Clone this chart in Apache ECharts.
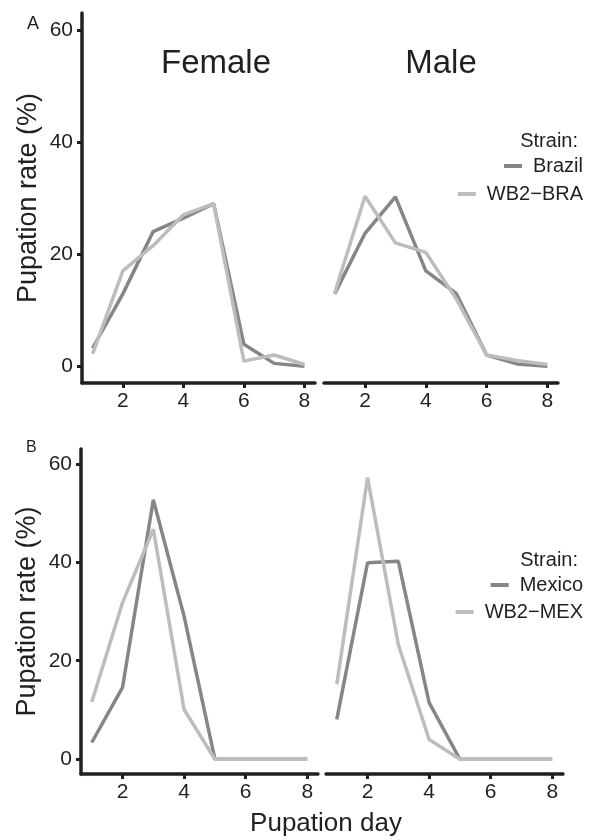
<!DOCTYPE html>
<html>
<head>
<meta charset="utf-8">
<title>Pupation rate</title>
<script src="https://cdn.jsdelivr.net/npm/echarts@6/dist/echarts.min.js"></script>
<style>
  html, body { margin: 0; padding: 0; background: #fff; }
  #main { width: 590px; height: 840px; }
</style>
</head>
<body>
<div id="main"></div>
<script>
// pupation days and rates (%)
var days = [1, 2, 3, 4, 5, 6, 7, 8];
var xTicks = [2, 4, 6, 8];
var yTicks = [0, 20, 40, 60];

// A: Brazil vs WB2-BRA
var brazilFemale = [3.2, 12.9, 24.0, 26.4, 29.0, 3.9, 0.5, 0];
var wbBraFemale  = [2.2, 17.0, 21.5, 27.0, 29.0, 0.9, 2.0, 0.3];
var brazilMale   = [12.9, 23.7, 30.2, 17.0, 13.0, 2.0, 0.4, 0];
var wbBraMale    = [13.0, 30.3, 22.0, 20.3, 12.0, 2.0, 1.0, 0.3];

// B: Mexico vs WB2-MEX
var mexicoFemale = [3.4, 14.6, 52.7, 29.0, 0, 0, 0, 0];
var wbMexFemale  = [11.6, 31.8, 46.7, 10.1, 0, 0, 0, 0];
var mexicoMale   = [8.1, 39.9, 40.2, 11.5, 0, 0, 0, 0];
var wbMexMale    = [15.2, 57.2, 23.3, 4.0, 0, 0, 0, 0];

var darkGrey = '#868686';
var lightGrey = '#bdbdbd';
var ink = '#231f20';
var font = 'Liberation Sans, Arial, sans-serif';

var myChart = echarts.init(document.getElementById('main'));

function pts(vals){
    var out = [];
    for (var i = 0; i < days.length; i++) out.push([days[i], vals[i]]);
    return out;
}

function xAxisFor(idx){
    return {
        type: 'value', gridIndex: idx, min: 0.65, max: 8.35,
        splitLine: { show: false },
        axisLine: { show: true, onZero: false, lineStyle: { color: ink, width: 3.5 } },
        axisTick: { show: true, customValues: xTicks, length: 5, lineStyle: { color: ink, width: 3 } },
        axisLabel: { customValues: xTicks, margin: 8, fontSize: 21, color: ink, fontFamily: font }
    };
}
function yAxisFor(idx, showIt){
    var ax = {
        type: 'value', gridIndex: idx, min: -3, max: 63,
        splitLine: { show: false },
        axisLine: { show: showIt, onZero: false, lineStyle: { color: ink, width: 3.5 } },
        axisTick: { show: showIt, customValues: yTicks, length: 5, lineStyle: { color: ink, width: 3 } },
        axisLabel: { show: showIt, customValues: yTicks, margin: 9, fontSize: 21, color: ink, fontFamily: font }
    };
    if (showIt) {
        ax.name = 'Pupation rate (%)';
        ax.nameLocation = 'middle';
        ax.nameGap = 40;
        ax.nameTextStyle = { fontSize: 27, color: ink, fontFamily: font };
    }
    return ax;
}
function line(name, color, vals, idx){
    return {
        name: name, type: 'line', xAxisIndex: idx, yAxisIndex: idx,
        data: pts(vals), symbol: 'none', color: color,
        lineStyle: { width: 3.5, color: color }, silent: true, animation: false
    };
}
function legendItem(name, top){
    return {
        data: [name], right: 7, top: top, padding: 0,
        icon: 'rect', itemWidth: 18, itemHeight: 4, selectedMode: false,
        textStyle: { fontSize: 20, color: ink, fontFamily: font, padding: [0, 0, 0, 6] }
    };
}

option = {
    backgroundColor: '#fff',
    animation: false,
    title: [
        { text: 'A', left: 22, top: 10, textStyle: { fontSize: 18, fontWeight: 'normal', color: ink, fontFamily: font } },
        { text: 'B', left: 21, top: 435, textStyle: { fontSize: 16, fontWeight: 'normal', color: ink, fontFamily: font } },
        { text: 'Female', left: 211, textAlign: 'center', top: 42, textStyle: { fontSize: 33, fontWeight: 'normal', color: ink, fontFamily: font } },
        { text: 'Male', left: 436, textAlign: 'center', top: 42, textStyle: { fontSize: 33, fontWeight: 'normal', color: ink, fontFamily: font } },
        { text: 'Strain:', right: 7, top: 126, textStyle: { fontSize: 20, fontWeight: 'normal', color: ink, fontFamily: font } },
        { text: 'Strain:', right: 7, top: 545, textStyle: { fontSize: 20, fontWeight: 'normal', color: ink, fontFamily: font } },
        { text: 'Pupation day', left: 321, textAlign: 'center', top: 806, textStyle: { fontSize: 26, fontWeight: 'normal', color: ink, fontFamily: font } }
    ],
    legend: [
        legendItem('Brazil', 156),
        legendItem('WB2−BRA', 184),
        legendItem('Mexico', 575),
        legendItem('WB2−MEX', 602)
    ],
    grid: [
        { left: 82, top: 13, width: 233, height: 370 },
        { left: 324, top: 13, width: 234, height: 370 },
        { left: 81, top: 449, width: 237, height: 325 },
        { left: 326, top: 449, width: 237, height: 325 }
    ],
    xAxis: [xAxisFor(0), xAxisFor(1), xAxisFor(2), xAxisFor(3)],
    yAxis: [yAxisFor(0, true), yAxisFor(1, false), yAxisFor(2, true), yAxisFor(3, false)],
    series: [
        line('Brazil', darkGrey, brazilFemale, 0),
        line('WB2−BRA', lightGrey, wbBraFemale, 0),
        line('Brazil', darkGrey, brazilMale, 1),
        line('WB2−BRA', lightGrey, wbBraMale, 1),
        line('Mexico', darkGrey, mexicoFemale, 2),
        line('WB2−MEX', lightGrey, wbMexFemale, 2),
        line('Mexico', darkGrey, mexicoMale, 3),
        line('WB2−MEX', lightGrey, wbMexMale, 3)
    ]
};
myChart.setOption(option);
</script>
</body>
</html>
